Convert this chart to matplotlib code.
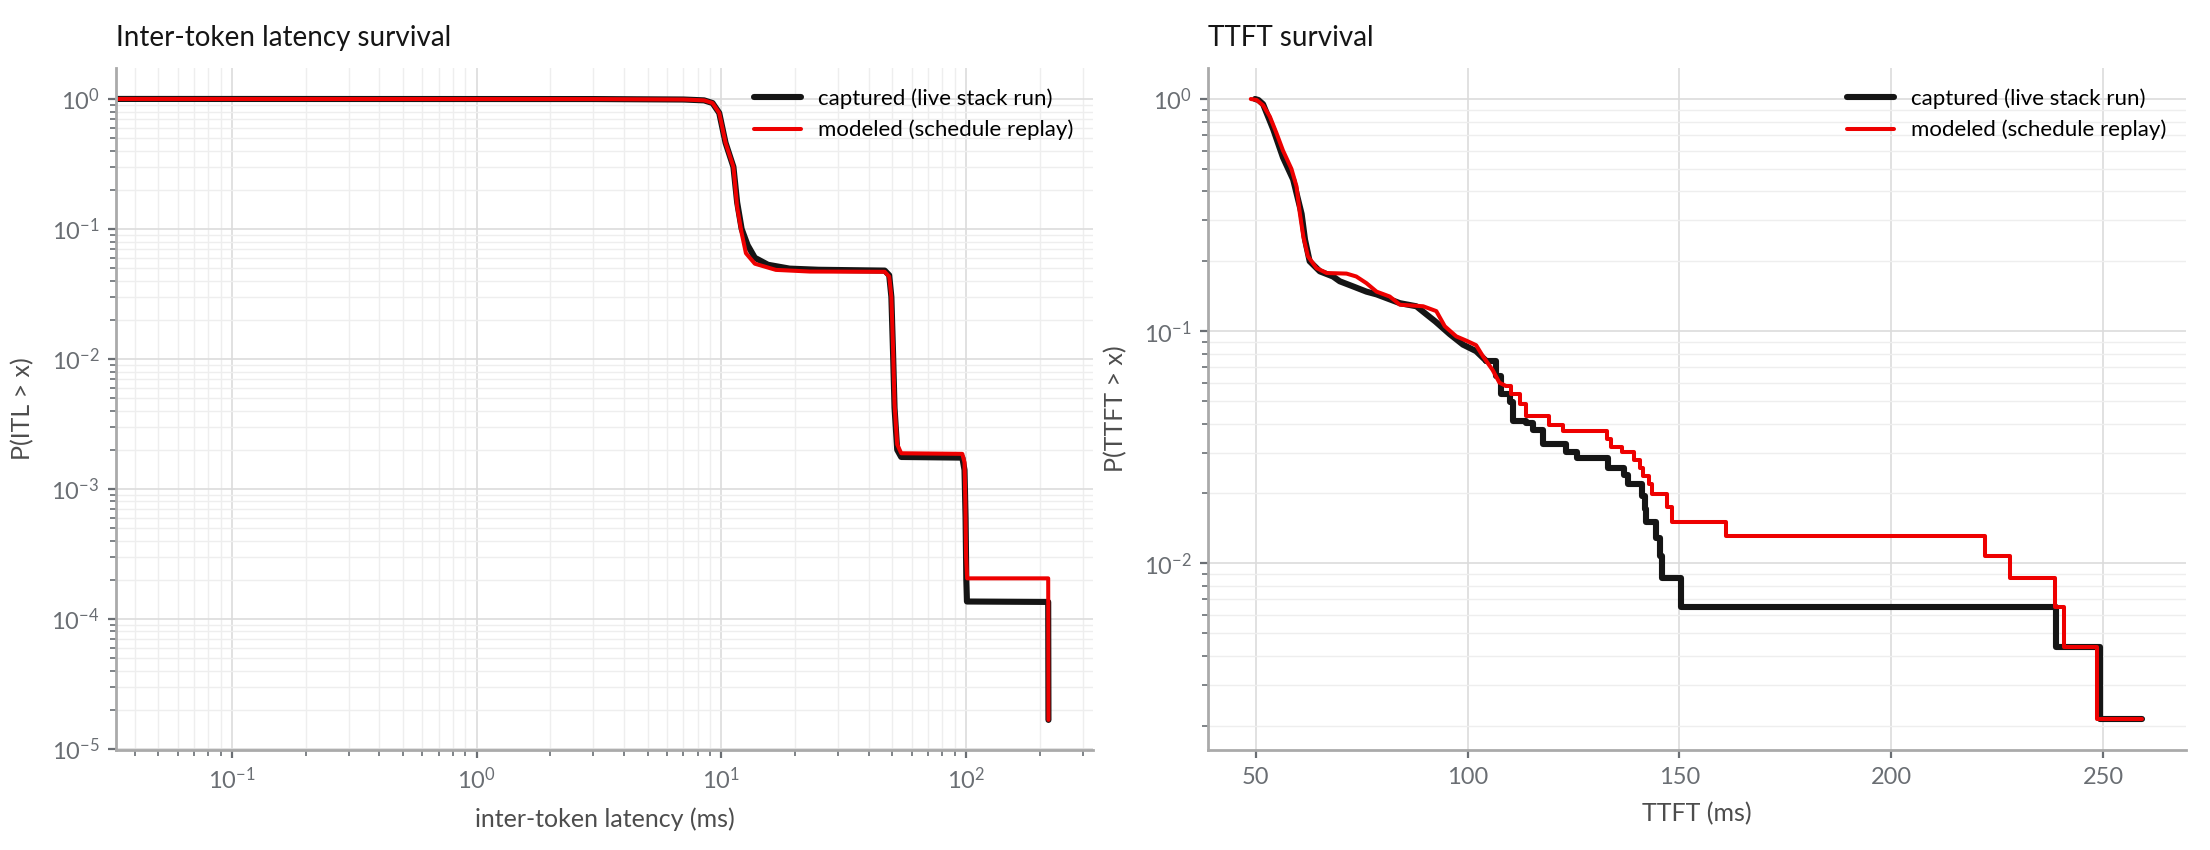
import matplotlib
matplotlib.use("Agg")
import matplotlib.pyplot as plt

plt.rcParams['font.family'] = ['Lato', 'DejaVu Sans']
plt.rcParams['mathtext.fontset'] = 'custom'
plt.rcParams['mathtext.rm'] = 'Lato'
plt.rcParams['mathtext.it'] = 'Lato:italic'
plt.rcParams['mathtext.bf'] = 'Lato:bold'

# Inter-token latency survival (ms, P(ITL > x))
itl_cap_x = [0.0336, 3.0, 7.0, 8.5, 9.2, 9.8, 10.4, 11.2, 11.6, 12.1, 12.8, 13.7, 15.5, 19.0,
             25.0, 46.5, 48.5, 49.5, 50.3, 51.0, 52.3, 54.3, 96.5, 98.5, 99.5, 100.2, 100.8,
             216.5, 217.0]
itl_cap_p = [1.0, 0.998, 0.99, 0.975, 0.93, 0.78, 0.46, 0.30, 0.16, 0.10, 0.075, 0.060, 0.053,
             0.0495, 0.0485, 0.0478, 0.044, 0.030, 0.011, 0.0042, 0.0020, 0.00176, 0.00174,
             0.0014, 0.0006, 0.0002, 0.000136, 0.000135, 1.67e-5]
itl_mod_x = [0.0336, 3.0, 7.0, 8.5, 9.2, 9.8, 10.4, 11.2, 11.6, 12.1, 12.6, 13.7, 16.7, 23.0,
             46.5, 48.5, 49.5, 50.3, 51.0, 52.3, 54.3, 96.5, 98.5, 99.3, 100.0, 101.0,
             216.5, 217.0]
itl_mod_p = [1.0, 0.998, 0.99, 0.975, 0.93, 0.78, 0.46, 0.30, 0.148, 0.093, 0.065, 0.054,
             0.0484, 0.0470, 0.0468, 0.043, 0.030, 0.012, 0.0045, 0.0022, 0.00188, 0.00186,
             0.0016, 0.0008, 0.0003, 0.000205, 0.000205, 1.67e-5]

# TTFT survival (ms, P(TTFT > x)): smooth head drawn as a line, tail as steps
ttft_cap_head_x = [49.8, 50.6, 51.7, 54.1, 56.4, 58.8, 60.8, 61.6, 62.7, 65.1, 68.2, 69.8,
                   72.9, 76.1, 78.5, 84.0, 87.9, 90.3, 92.4, 95.8, 98.9, 102.0, 104.4]
ttft_cap_head_p = [1.0, 0.99, 0.95, 0.74, 0.56, 0.45, 0.32, 0.248, 0.20, 0.181, 0.172, 0.164,
                   0.156, 0.148, 0.144, 0.132, 0.128, 0.118, 0.110, 0.097, 0.0875, 0.082,
                   0.0744]
ttft_cap_tail_x = [104.4, 106.8, 107.9, 109.9, 110.7, 113.8, 115.5, 117.7, 123.3, 125.8,
                   133.2, 136.8, 137.8, 141.1, 141.9, 142.2, 144.5, 145.4, 145.8, 150.4,
                   239.0, 249.3, 259.1]
ttft_cap_tail_p = [0.0744, 0.0641, 0.0534, 0.0493, 0.0409, 0.0402, 0.0375, 0.0325, 0.0303,
                   0.0283, 0.0258, 0.0240, 0.0220, 0.0195, 0.0171, 0.0150, 0.0129, 0.0107,
                   0.00866, 0.00647, 0.00434, 0.00213, 0.00213]
ttft_mod_head_x = [48.8, 50.2, 51.7, 53.3, 54.9, 56.4, 58.4, 59.6, 60.4, 61.2, 62.3, 64.3,
                   66.7, 71.4, 73.7, 76.1, 78.5, 81.6, 84.0, 89.5, 92.6, 94.6, 97.3, 99.7,
                   102.0, 103.6, 105.9, 107.5, 109.1]
ttft_mod_head_p = [1.0, 0.99, 0.94, 0.84, 0.71, 0.60, 0.50, 0.42, 0.32, 0.256, 0.21, 0.187,
                   0.178, 0.177, 0.172, 0.161, 0.148, 0.141, 0.130, 0.128, 0.122, 0.105,
                   0.095, 0.091, 0.087, 0.078, 0.068, 0.060, 0.058]
ttft_mod_tail_x = [109.1, 110.3, 112.3, 113.8, 119.2, 122.4, 133.0, 133.9, 136.4, 139.2,
                   140.6, 141.5, 142.7, 143.5, 147.0, 148.2, 161.1, 222.1, 228.1, 238.6,
                   240.7, 248.6, 259.1]
ttft_mod_tail_p = [0.058, 0.0534, 0.0484, 0.0430, 0.0394, 0.0370, 0.0343, 0.0318, 0.0301,
                   0.0280, 0.0258, 0.0237, 0.0220, 0.0198, 0.0175, 0.0151, 0.0131, 0.0107,
                   0.00866, 0.00647, 0.00434, 0.00213, 0.00213]

BLACK = '#151515'
RED = '#ee0000'
TICK = '#6a6e73'
LABEL = '#4d4d4d'
LW_CAP = 2.2
LW_MOD = 1.45


def style(ax):
    ax.set_facecolor('white')
    for s in ['top', 'right']:
        ax.spines[s].set_visible(False)
    for s in ['left', 'bottom']:
        ax.spines[s].set_color('#aaaaaa')
        ax.spines[s].set_linewidth(1.0)
    ax.grid(True, which='major', color='#dcdcdc', linewidth=0.6)
    ax.grid(True, which='minor', color='#eeeeee', linewidth=0.5)
    ax.set_axisbelow(True)
    ax.tick_params(which='major', length=3, width=0.8, color=TICK, labelcolor=TICK,
                   labelsize=8.5, pad=3)
    ax.tick_params(which='minor', length=2, width=0.6, color=TICK)


def add_legend(ax):
    ax.legend(loc='upper right', frameon=False, fontsize=8, handlelength=2.1,
              handletextpad=0.75, labelspacing=0.5)


fig = plt.figure(figsize=(11.05, 4.25), dpi=200)
ax1 = fig.add_axes([0.05249, 0.11765, 0.44208, 0.80235])
ax2 = fig.add_axes([0.54661, 0.11765, 0.44253, 0.80235])

# left: inter-token latency
ax1.plot(itl_cap_x, itl_cap_p, color=BLACK, lw=LW_CAP, solid_capstyle='round',
         solid_joinstyle='round', label='captured (live stack run)')
ax1.plot(itl_mod_x, itl_mod_p, color=RED, lw=LW_MOD, solid_capstyle='round',
         solid_joinstyle='round', label='modeled (schedule replay)')
ax1.set_xscale('log')
ax1.set_yscale('log')
ax1.set_xlim(0.0336, 330)
ax1.set_ylim(9.8e-6, 1.73)
style(ax1)
ax1.set_title('Inter-token latency survival', loc='left', fontsize=10, color=BLACK, pad=8)
ax1.set_xlabel('inter-token latency (ms)', fontsize=9, color=LABEL, labelpad=5)
ax1.set_ylabel('P(ITL > x)', fontsize=9, color=LABEL, labelpad=6)
add_legend(ax1)

# right: TTFT
ax2.plot(ttft_cap_head_x, ttft_cap_head_p, color=BLACK, lw=LW_CAP, solid_capstyle='round',
         label='captured (live stack run)')
ax2.plot(ttft_cap_tail_x, ttft_cap_tail_p, color=BLACK, lw=LW_CAP, drawstyle='steps-post',
         solid_capstyle='round')
ax2.plot(ttft_mod_head_x, ttft_mod_head_p, color=RED, lw=LW_MOD, solid_capstyle='round',
         label='modeled (schedule replay)')
ax2.plot(ttft_mod_tail_x, ttft_mod_tail_p, color=RED, lw=LW_MOD, drawstyle='steps-post',
         solid_capstyle='round')
ax2.set_yscale('log')
ax2.set_xlim(38.7, 269.6)
ax2.set_ylim(1.57e-3, 1.36)
ax2.set_xticks([50, 100, 150, 200, 250])
style(ax2)
ax2.set_title('TTFT survival', loc='left', fontsize=10, color=BLACK, pad=8)
ax2.set_xlabel('TTFT (ms)', fontsize=9, color=LABEL, labelpad=5)
ax2.set_ylabel('P(TTFT > x)', fontsize=9, color=LABEL, labelpad=6)
add_legend(ax2)

fig.savefig('out.png', dpi=200, facecolor='white')
